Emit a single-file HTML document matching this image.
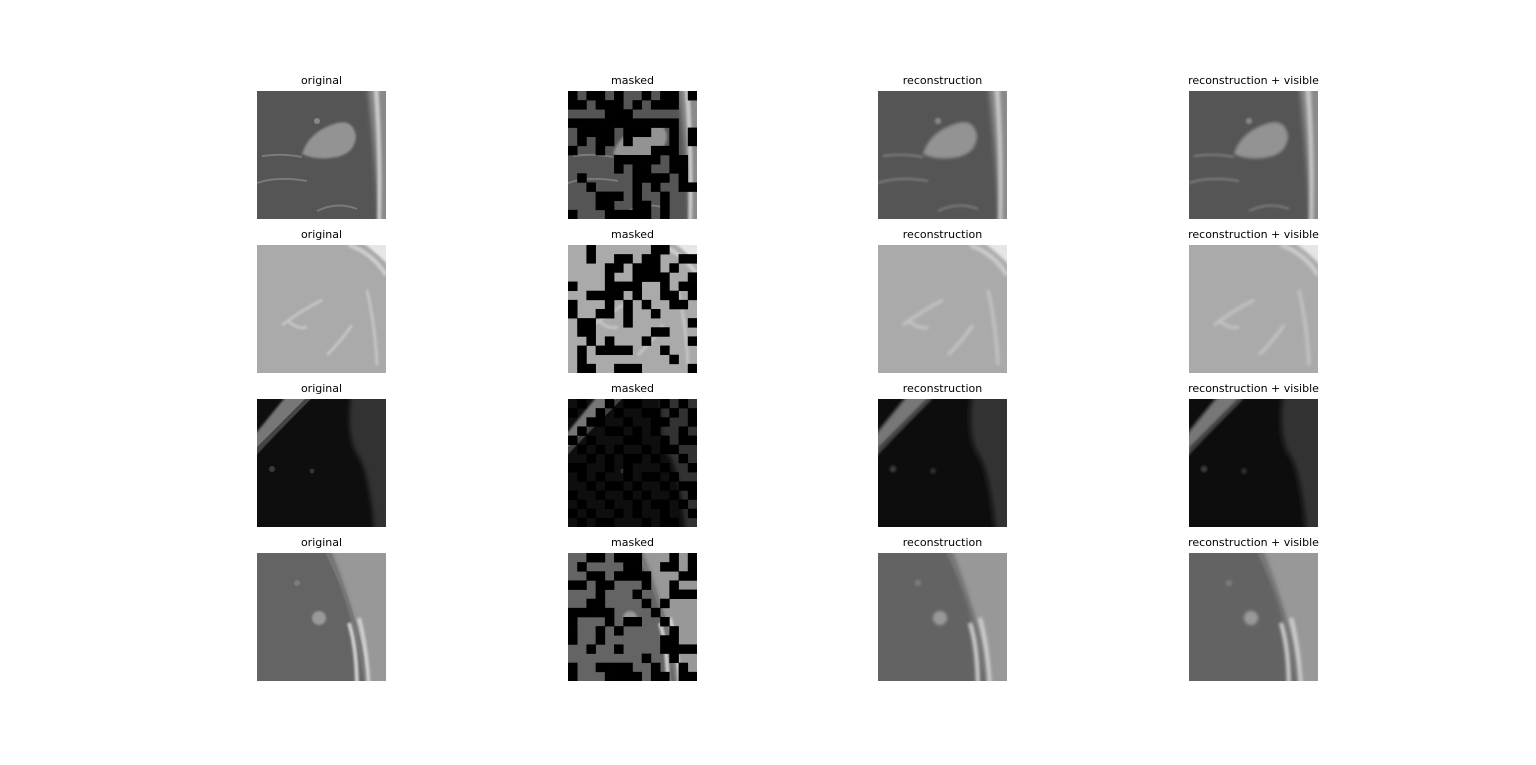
<!DOCTYPE html>
<html><head><meta charset="utf-8"><style>
html,body{margin:0;padding:0;background:#fff;width:1536px;height:765px;overflow:hidden}
svg text{font-family:"DejaVu Sans","Liberation Sans",sans-serif;font-size:11px;fill:#000}
</style></head><body>
<svg id="fig" width="1536" height="765" viewBox="0 0 1536 765" xmlns="http://www.w3.org/2000/svg">
<defs>
<filter id="bl" x="-20%" y="-20%" width="140%" height="140%"><feGaussianBlur stdDeviation="2.5"/></filter>
<filter id="bl2" x="-20%" y="-20%" width="140%" height="140%"><feGaussianBlur stdDeviation="1"/></filter>
<clipPath id="cp"><rect x="0" y="0" width="129" height="128"/></clipPath>
<g id="s0">
<rect x="-10" y="-10" width="149" height="148" fill="#555"/>
<path d="M110 -10 L139 -10 L139 138 L122 138 Q118 60 110 -10Z" fill="#8a8a8a" filter="url(#bl)"/>
<path d="M116 -10 L121 -10 Q126 60 124 138 L120 138 Q122 60 116 -10Z" fill="#c8c8c8" filter="url(#bl2)"/>
<path d="M45 63 Q52 40 80 32 Q96 28 99 45 Q98 62 80 66 Q60 70 45 63Z" fill="#939393" filter="url(#bl2)"/>
<path d="M0 92 Q20 85 50 90 M5 65 Q25 62 45 66 M60 120 Q80 110 100 118" stroke="#7a7a7a" stroke-width="2" fill="none"/>
<circle cx="60" cy="30" r="3" fill="#888"/>
</g>
<g id="s1">
<rect x="-10" y="-10" width="149" height="148" fill="#aaa"/>
<path d="M95 -10 L139 -10 L139 28 Q118 5 95 -10Z" fill="#e6e6e6" filter="url(#bl2)"/>
<path d="M92 0 Q115 8 129 30" stroke="#cfcfcf" stroke-width="4" fill="none" filter="url(#bl2)"/>
<path d="M25 80 Q45 65 65 55 M30 75 Q40 85 50 82 M70 110 Q85 95 95 80 M110 45 Q118 80 120 120" stroke="#c4c4c4" stroke-width="3" fill="none" filter="url(#bl2)"/>
</g>
<g id="s2">
<rect x="-10" y="-10" width="149" height="148" fill="#0e0e0e"/>
<path d="M-10 45 L35 -10 L60 -10 L-10 65Z" fill="#777" filter="url(#bl2)"/>
<path d="M0 48 L48 0 L54 0 L0 54Z" fill="#444"/>
<path d="M95 -10 L139 -10 L139 138 L118 138 Q112 70 100 55 Q88 35 95 -10Z" fill="#333" filter="url(#bl)"/>
<circle cx="15" cy="70" r="3" fill="#3a3a3a"/><circle cx="55" cy="72" r="2.5" fill="#333"/>
</g>
<g id="s3">
<rect x="-10" y="-10" width="149" height="148" fill="#646464"/>
<path d="M70 -10 L139 -10 L139 138 L110 138 Q100 60 70 -10Z" fill="#989898" filter="url(#bl)"/>
<path d="M70 0 Q100 60 110 128" stroke="#777" stroke-width="3" fill="none"/>
<path d="M92 70 Q100 95 100 138 M102 65 Q110 95 112 138" stroke="#cfcfcf" stroke-width="4" fill="none" filter="url(#bl2)"/>
<circle cx="62" cy="65" r="7" fill="#999" filter="url(#bl2)"/>
<circle cx="40" cy="30" r="3" fill="#7c7c7c"/>
</g>
</defs>
<g id="panels"></g>
</svg>
<script>
const titles = ["original", "masked", "reconstruction", "reconstruction + visible"];
const colX = [257, 568, 878, 1189];
const rowY = [91, 245, 399, 553];
const masks = [
["01001011010010","00100010100011","11110001111111","00000000000011","10000100011010","10100101111010","01101111100011","11111000001001","11111010011001","10111110000101","11011110101100","11100010110111","11100110010111","01110000010111"],
["11011111100111","11011001001100","11110010001011","11110110000110","01110000110100","11000010110010","01110101011001","01100101101111","10011101111110","10011111100111","11010111011110","10100001110111","10111111111011","10011000111110"],
["10110100110101","01101011001010","11001101100110","10110010101101","01011100110100","10101011010011","11010100101101","00110101110110","10101101001011","11010010110100","01101101011010","10110110100101","01011010110110","10100111010011"],
["11001000111010","10111100110010","11001000011100","00100111011011","11101110111000","11001111010111","00000111101111","01110100110111","01101011111011","01101111110011","11011011110000","11111111011011","01100001101101","01110000100100"]
];
const NS = "http://www.w3.org/2000/svg";
const root = document.getElementById("panels");
for (let r = 0; r < 4; r++) {
  for (let c = 0; c < 4; c++) {
    const g = document.createElementNS(NS, "g");
    g.setAttribute("transform", `translate(${colX[c]},${rowY[r]})`);
    
    
    const t = document.createElementNS(NS, "text");
    t.setAttribute("x", 64.5); t.setAttribute("y", -7); t.setAttribute("text-anchor", "middle");
    t.textContent = titles[c];
    
    
    g.appendChild(t);
    const ig = document.createElementNS(NS, "g");
    ig.setAttribute("clip-path", "url(#cp)");
    const inner = document.createElementNS(NS, "g");
    const u = document.createElementNS(NS, "use");
    u.setAttribute("href", "#s" + r);
    inner.appendChild(u);
    if (c >= 2) inner.setAttribute("filter", "url(#bl2)");
    ig.appendChild(inner);
    if (c === 1) {
      const cs = 129 / 14, rs = 128 / 14;
      for (let i = 0; i < 14; i++) for (let j = 0; j < 14; j++) {
        if (masks[r][i][j] === "0") {
          const rc = document.createElementNS(NS, "rect");
          rc.setAttribute("x", j * cs); rc.setAttribute("y", i * rs);
          rc.setAttribute("width", cs + 0.3); rc.setAttribute("height", rs + 0.3);
          rc.setAttribute("fill", "#000");
          
          
          ig.appendChild(rc);
        }
      }
    }
    g.appendChild(ig);
    root.appendChild(g);
  }
}
</script>
</body></html>
